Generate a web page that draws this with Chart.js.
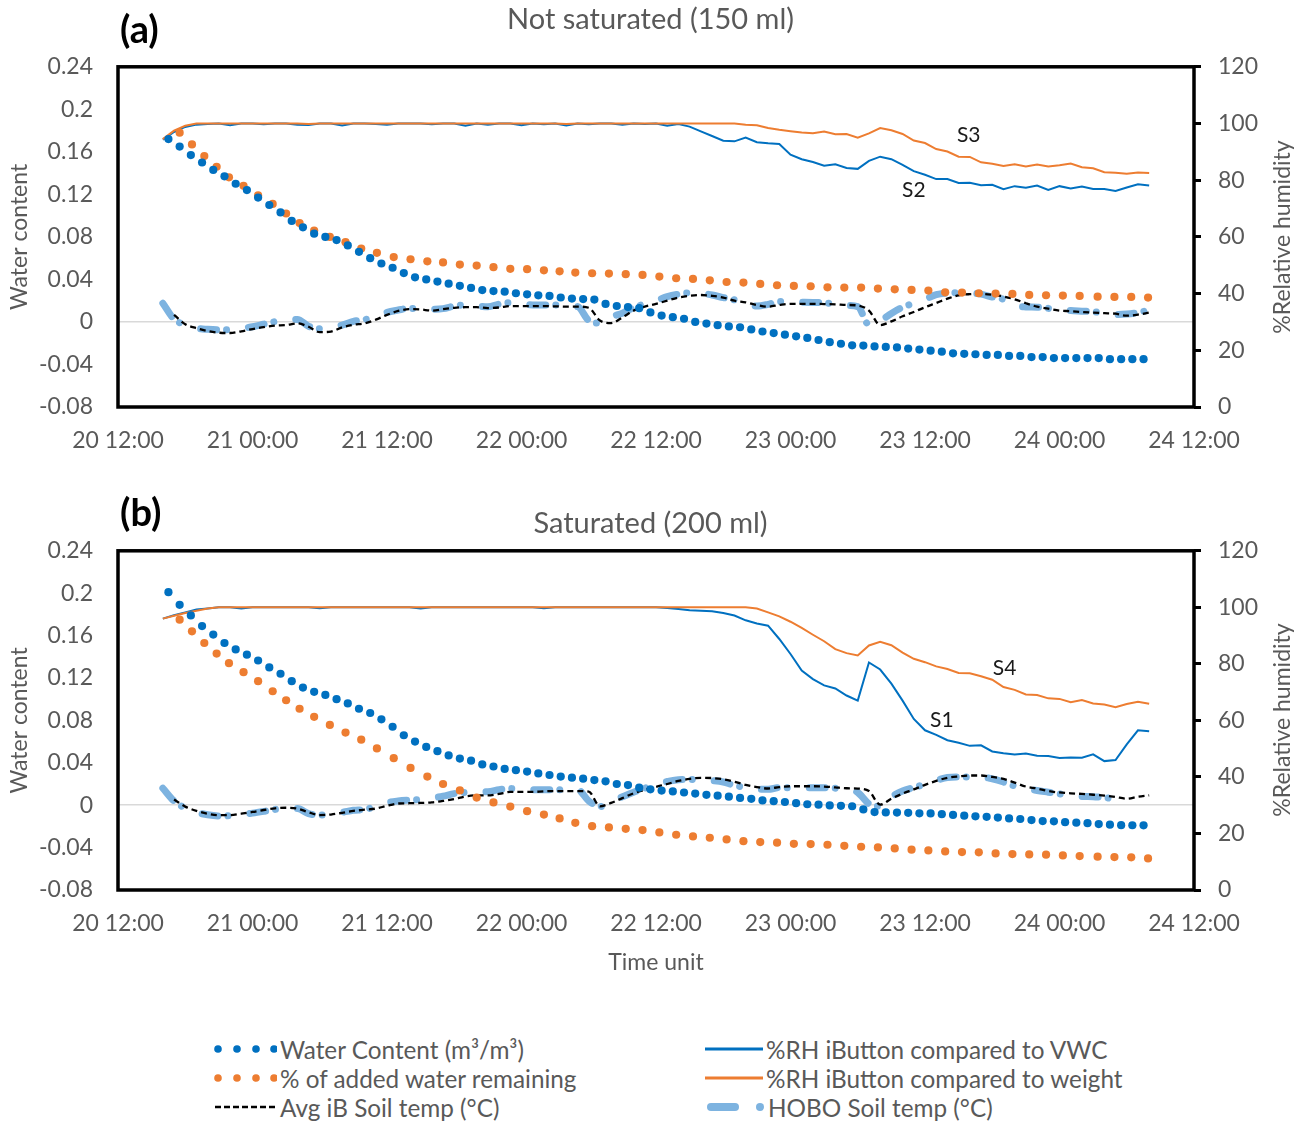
<!DOCTYPE html>
<html>
<head>
<meta charset="utf-8">
<script src="https://cdn.jsdelivr.net/npm/chart.js@4.4.1/dist/chart.umd.min.js"></script>
<style>
  body { margin: 0; background: #fff; width: 1301px; height: 1122px; position: relative; overflow: hidden; font-family: Lato, sans-serif; color: #595959; }
  canvas { position: absolute; left: 0; }
  .tag { position: absolute; left: 120px; height: 44px; line-height: 44px; font: bold 38px Lato, sans-serif; color: #000; }
  .rt { position: absolute; left: 1121px; width: 320px; height: 28px; line-height: 28px; text-align: center; font-size: 23px; transform: rotate(-90deg); }
  .lg { position: absolute; height: 28px; display: flex; align-items: center; font-size: 24.3px; white-space: nowrap; }
  .lg svg { margin-right: 3px; }
</style>
</head>
<body>
<canvas id="chartA" width="1301" height="470" style="top:0"></canvas>
<canvas id="chartB" width="1301" height="516" style="top:484px"></canvas>
<div class="tag" style="top:5px">(a)</div>
<div class="tag" style="top:488px">(b)</div>
<div class="rt" style="top:223px">%Relative humidity</div>
<div class="rt" style="top:706px">%Relative humidity</div>

<div class="lg" style="left:213px;top:1035px"><svg width="64" height="20"><g fill="#0070C0"><circle cx="5" cy="10" r="3.8"/><circle cx="24" cy="10" r="3.8"/><circle cx="43" cy="10" r="3.8"/><circle cx="61" cy="10" r="3.8"/></g></svg>Water Content (m³/m³)</div>
<div class="lg" style="left:213px;top:1064px"><svg width="64" height="20"><g fill="#ED7D31"><circle cx="5" cy="10" r="3.8"/><circle cx="24" cy="10" r="3.8"/><circle cx="43" cy="10" r="3.8"/><circle cx="61" cy="10" r="3.8"/></g></svg>% of added water remaining</div>
<div class="lg" style="left:213px;top:1093px"><svg width="64" height="20"><line x1="2" y1="10" x2="64" y2="10" stroke="#000" stroke-width="2.6" stroke-dasharray="6 3"/></svg>Avg iB Soil temp (°C)</div>
<div class="lg" style="left:703px;top:1035px"><svg width="60" height="20"><line x1="2" y1="10" x2="60" y2="10" stroke="#0070C0" stroke-width="3"/></svg>%RH iButton compared to VWC</div>
<div class="lg" style="left:703px;top:1064px"><svg width="60" height="20"><line x1="2" y1="10" x2="60" y2="10" stroke="#ED7D31" stroke-width="3"/></svg>%RH iButton compared to weight</div>
<div class="lg" style="left:703px;top:1093px"><svg width="62" height="20"><line x1="8" y1="10" x2="32" y2="10" stroke="#7DB3E0" stroke-width="8" stroke-linecap="round"/><circle cx="57" cy="10" r="4" fill="#7DB3E0"/></svg>HOBO Soil temp (°C)</div>

<script>
// x values are hours after 20 12:00
const xTickLabels = ['20 12:00', '21 00:00', '21 12:00', '22 00:00', '22 12:00', '23 00:00', '23 12:00', '24 00:00', '24 12:00'];

const hours = [4, 5, 6, 7, 8, 9, 10, 11, 12, 13, 14, 15, 16, 17, 18, 19, 20, 21, 22, 23, 24, 25, 26, 27, 28, 29, 30,
  31, 32, 33, 34, 35, 36, 37, 38, 39, 40, 41, 42, 43, 44, 45, 46, 47, 48, 49, 50, 51, 52, 53, 54, 55, 56, 57, 58, 59, 60,
  61, 62, 63, 64, 65, 66, 67, 68, 69, 70, 71, 72, 73, 74, 75, 76, 77, 78, 79, 80, 81, 82, 83, 84, 85, 86, 87, 88, 89, 90,
  91, 92];

const wcHours = [4.5, 5.5, 6.5, 7.5, 8.5, 9.5, 10.5, 11.5, 12.5, 13.5, 14.5, 15.5, 16.5, 17.5, 18.5, 19.5, 20.5, 21.5,
  22.5, 23.5, 24.5, 25.5, 26.5, 27.5, 28.5, 29.5, 30.5, 31.5, 32.5, 33.5, 34.5, 35.5, 36.5, 37.5, 38.5, 39.5, 40.5, 41.5,
  42.5, 43.5, 44.5, 45.5, 46.5, 47.5, 48.5, 49.5, 50.5, 51.5, 52.5, 53.5, 54.5, 55.5, 56.5, 57.5, 58.5, 59.5, 60.5, 61.5,
  62.5, 63.5, 64.5, 65.5, 66.5, 67.5, 68.5, 69.5, 70.5, 71.5, 72.5, 73.5, 74.5, 75.5, 76.5, 77.5, 78.5, 79.5, 80.5, 81.5,
  82.5, 83.5, 84.5, 85.5, 86.5, 87.5, 88.5, 89.5, 90.5, 91.5];

const addHours = [5.5, 6.6, 7.7, 8.8, 9.9, 11.2, 12.5, 13.8, 15.0, 16.2, 17.5, 18.9, 20.3, 21.7, 23.1, 24.6, 26.1, 27.6,
  29.0, 30.5, 32.0, 33.5, 35.0, 36.5, 38.0, 39.4, 40.8, 42.3, 43.8, 45.3, 46.8, 48.3, 49.8, 51.3, 52.8, 54.3, 55.8, 57.3,
  58.8, 60.3, 61.8, 63.3, 64.8, 66.3, 67.8, 69.3, 70.8, 72.3, 73.8, 75.3, 76.8, 78.3, 79.8, 81.3, 82.8, 84.3, 85.8, 87.4,
  88.9, 90.4, 91.9];

// (a) Not saturated
const wcA = [0.172, 0.165, 0.157, 0.150, 0.143, 0.137, 0.130, 0.124, 0.117, 0.110, 0.103, 0.095, 0.089, 0.083, 0.080,
  0.077, 0.072, 0.066, 0.060, 0.055, 0.051, 0.046, 0.042, 0.040, 0.038, 0.036, 0.034, 0.032, 0.030, 0.029, 0.0285, 0.027,
  0.026, 0.025, 0.0245, 0.023, 0.022, 0.0215, 0.021, 0.017, 0.015, 0.014, 0.013, 0.009, 0.006, 0.0045, 0.003, 0.0,
  -0.0015, -0.003, -0.0042, -0.005, -0.007, -0.009, -0.0105, -0.012, -0.0135, -0.015, -0.017, -0.019, -0.0205, -0.022,
  -0.0222, -0.023, -0.0235, -0.024, -0.025, -0.026, -0.027, -0.028, -0.0295, -0.030, -0.0304, -0.031, -0.031, -0.032,
  -0.032, -0.033, -0.033, -0.034, -0.034, -0.034, -0.034, -0.034, -0.035, -0.035, -0.035, -0.035];
const addA = [0.178, 0.167, 0.156, 0.146, 0.136, 0.128, 0.119, 0.111, 0.102, 0.093, 0.086, 0.080, 0.075, 0.069, 0.065,
  0.061, 0.059, 0.057, 0.056, 0.054, 0.053, 0.0515, 0.050, 0.0496, 0.0486, 0.0476, 0.0464, 0.0458, 0.0455, 0.0449, 0.0442,
  0.0427, 0.0411, 0.0405, 0.0392, 0.0376, 0.0370, 0.0358, 0.0345, 0.0339, 0.0336, 0.0326, 0.0323, 0.0323, 0.0314, 0.0307,
  0.0301, 0.0295, 0.0279, 0.0276, 0.0270, 0.0267, 0.0264, 0.0254, 0.0251, 0.0248, 0.0245, 0.0238, 0.0235, 0.0235, 0.0229];
const rhVwcA = [94.3, 97.0, 98.8, 99.6, 99.8, 100, 99.4, 100, 100, 99.7, 100, 100, 99.6, 99.5, 100, 100, 99.3, 100, 100,
  99.8, 99.6, 100, 100, 100, 99.7, 100, 100, 99.2, 100, 99.6, 100, 100, 99.4, 100, 99.7, 100, 99.3, 100, 99.7, 100, 100,
  99.6, 100, 99.8, 100, 99.2, 99.8, 98.9, 97.2, 95.6, 93.9, 93.7, 95.0, 93.4, 93.0, 92.8, 89.0, 87.4, 86.4, 85.1, 85.6,
  84.3, 84.0, 86.8, 88.3, 87.4, 85.4, 83.2, 81.9, 80.4, 80.4, 79.0, 79.1, 78.2, 78.4, 76.8, 77.9, 77.3, 78.1, 76.6, 77.9,
  77.1, 77.8, 76.9, 76.9, 76.2, 77.4, 78.6, 78.1];
const rhWtA = [94.5, 97.5, 99.2, 100, 100, 100, 100, 100, 100, 100, 100, 100, 100, 99.8, 100, 100, 100, 100, 100, 100,
  100, 100, 100, 100, 100, 100, 100, 100, 100, 100, 100, 100, 100, 100, 100, 100, 99.8, 100, 100, 100, 100, 100, 100, 100,
  100, 100, 100, 100, 100, 100, 100, 100, 99.6, 99.4, 98.4, 97.8, 97.3, 96.8, 96.6, 97.2, 96.2, 96.3, 95.0, 96.5, 98.4,
  97.6, 96.3, 94.0, 93.1, 91.0, 90.1, 88.3, 88.2, 86.3, 85.8, 85.0, 85.6, 84.8, 85.5, 84.8, 85.3, 85.9, 84.6, 84.2, 82.8,
  82.6, 82.3, 82.7, 82.5];
const tempA = [null, 32.5, 29.2, 27.8, 26.8, 26.2, 26.1, 26.7, 27.5, 28.2, 28.7, 28.9, 29.5, 28.3, 26.4, 26.6, 28.1, 29.0,
  29.5, 30.8, 32.5, 33.9, 34.5, 34.4, 34.0, 34.5, 35.0, 35.2, 35.2, 34.9, 35.1, 35.6, 35.6, 35.6, 35.6, 35.5, 35.4, 35.4,
  35.0, 30.5, 29.6, 31.6, 34.0, 35.4, 36.4, 37.5, 38.6, 39.2, 39.5, 39.2, 38.6, 37.5, 36.9, 36.0, 35.4, 36.0, 36.4, 36.4,
  36.4, 36.3, 36.2, 36.0, 35.8, 34.0, 28.9, 30.2, 32.0, 33.5, 35.2, 36.7, 38.2, 39.4, 39.8, 39.9, 39.6, 39.0, 38.0, 36.6,
  35.4, 34.7, 34.0, 33.8, 33.5, 33.3, 33.1, 32.9, 32.2, 32.6, 33.3];
const hoboA = [36.6, 31.0, 29.0, 27.8, 27.4, 27.2, 27.3, 27.8, 28.3, 29.2, 30.1, 30.5, 30.9, 28.5, 27.6, 28.2, 28.9, 30.2,
  30.8, 31.8, 33.4, 34.2, 34.8, 34.6, 34.5, 34.7, 35.6, 36.0, 35.6, 35.4, 36.3, 36.8, 36.4, 36.0, 36.0, 36.0, 35.6, 35.4,
  30.5, 29.6, 31.8, 33.1, 35.0, 36.4, 37.5, 38.9, 39.8, 40.3, 40.1, 39.5, 38.6, 37.8, 36.5, 35.6, 36.2, 37.2, 37.1, 37.0,
  36.9, 36.8, 36.2, 35.8, 35.4, 29.0, 30.4, 33.0, 35.2, 36.6, 38.0, 39.6, 40.2, 40.3, 40.2, 39.8, 38.8, 38.0, 35.8, 35.3,
  35.2, 34.8, 34.3, 34.0, 33.8, 33.6, 33.1, 32.6, 32.8, 33.3, 34.2];

// (b) Saturated
const wcB = [0.201, 0.189, 0.179, 0.169, 0.161, 0.153, 0.147, 0.142, 0.1365, 0.130, 0.124, 0.117, 0.111, 0.107, 0.104,
  0.100, 0.096, 0.091, 0.087, 0.081, 0.074, 0.066, 0.060, 0.055, 0.051, 0.047, 0.044, 0.042, 0.0385, 0.0365, 0.0342,
  0.033, 0.0317, 0.030, 0.0285, 0.027, 0.026, 0.025, 0.0237, 0.0225, 0.020, 0.019, 0.0165, 0.015, 0.0138, 0.013, 0.012,
  0.011, 0.0098, 0.009, 0.008, 0.0069, 0.006, 0.0045, 0.0038, 0.003, 0.0019, 0.0009, 0.0005, -0.0002, -0.0006, -0.001,
  -0.004, -0.0065, -0.0068, -0.007, -0.0072, -0.0077, -0.0078, -0.0085, -0.0092, -0.0099, -0.0105, -0.011, -0.0117,
  -0.0125, -0.013, -0.014, -0.015, -0.0152, -0.016, -0.0165, -0.017, -0.0178, -0.0184, -0.0188, -0.0189, -0.019];
const addB = [0.175, 0.164, 0.153, 0.143, 0.134, 0.1255, 0.117, 0.1075, 0.099, 0.091, 0.0834, 0.0757, 0.0685, 0.0618,
  0.0536, 0.0444, 0.0352, 0.027, 0.020, 0.0139, 0.0072, 0.0026, -0.0013, -0.0056, -0.0088, -0.0125, -0.0166, -0.0198,
  -0.021, -0.0223, -0.0235, -0.0257, -0.0279, -0.0295, -0.0307, -0.0323, -0.0339, -0.0348, -0.0354, -0.0364, -0.0367,
  -0.0373, -0.0383, -0.0392, -0.0398, -0.0408, -0.042, -0.0427, -0.0436, -0.0442, -0.0445, -0.0455, -0.0461, -0.0464,
  -0.0467, -0.0474, -0.048, -0.0486, -0.0489, -0.0492, -0.0502];
const rhVwcB = [96.0, 97.2, 98.2, 99.2, 99.6, 100, 100, 99.6, 100, 100, 100, 100, 100, 100, 99.7, 100, 100, 100, 100, 100,
  100, 100, 100, 99.6, 100, 100, 100, 100, 100, 100, 100, 100, 100, 100, 99.7, 100, 100, 100, 100, 100, 100, 100, 100, 100,
  100, 99.8, 99.4, 99.0, 98.8, 98.6, 98.0, 97.1, 95.4, 94.3, 93.5, 88.8, 83.5, 77.6, 74.6, 72.4, 71.3, 68.8, 67.0, 80.5,
  78.0, 73.0, 67.0, 60.5, 56.5, 54.9, 53.0, 52.1, 51.0, 51.2, 49.0, 48.4, 47.9, 48.3, 47.5, 47.4, 46.7, 46.9, 46.8, 48.0,
  45.6, 46.0, 51.5, 56.5, 56.2];
const rhWtB = [96.0, 97.0, 98.0, 98.8, 99.6, 100, 100, 100, 100, 100, 100, 100, 100, 100, 100, 100, 100, 100, 100, 100,
  100, 100, 100, 100, 100, 100, 100, 100, 100, 100, 100, 100, 100, 100, 100, 100, 100, 100, 100, 100, 100, 100, 100, 100,
  100, 100, 100, 100, 100, 100, 100, 100, 100, 99.6, 98.2, 96.8, 94.9, 92.7, 90.3, 88.0, 85.2, 83.8, 83.0, 86.5, 87.8,
  86.6, 84.0, 81.8, 80.6, 79.1, 78.2, 76.8, 76.7, 75.6, 74.4, 71.8, 70.8, 69.2, 69.0, 67.8, 67.6, 66.4, 67.2, 66.0, 65.6,
  64.7, 65.8, 66.6, 65.9];
const tempB = [null, 32.0, 29.5, 28.0, 27.0, 26.5, 26.5, 27.0, 27.6, 28.3, 28.9, 29.1, 28.8, 27.5, 26.5, 26.7, 27.3, 28.0,
  28.4, 28.8, 29.8, 30.6, 30.7, 30.8, 31.0, 31.5, 32.2, 33.1, 33.5, 33.5, 34.0, 34.7, 34.7, 34.7, 34.9, 35.0, 35.0, 35.0,
  34.8, 29.6, 30.8, 32.5, 34.2, 35.4, 36.5, 37.5, 38.6, 39.3, 39.7, 39.6, 39.2, 38.3, 37.2, 36.4, 35.9, 36.4, 36.7, 36.7,
  36.7, 36.6, 36.3, 36.0, 35.9, 35.0, 30.2, 32.3, 34.1, 35.6, 37.2, 38.6, 39.7, 40.2, 40.5, 40.5, 40.0, 39.3, 38.0, 36.6,
  35.9, 35.0, 34.5, 34.2, 34.0, 33.7, 33.4, 32.9, 32.3, 33.0, 33.5];
const hoboB = [36.0, 31.5, 29.0, 27.5, 26.6, 26.2, 26.3, 26.8, 27.2, 27.8, 28.5, 28.7, 28.8, 27.0, 26.5, 27.0, 27.5, 28.2,
  28.5, 29.5, 30.9, 31.5, 31.8, 32.0, 32.5, 33.2, 34.1, 34.5, 34.7, 34.8, 35.5, 35.9, 35.7, 35.5, 35.5, 35.5, 35.5, 35.5,
  31.5, 29.5, 31.5, 33.0, 34.6, 36.0, 37.6, 38.4, 39.0, 39.1, 39.0, 38.7, 38.2, 37.0, 36.3, 35.7, 35.6, 36.2, 36.2, 36.2,
  36.2, 36.2, 36.0, 35.8, 34.5, 30.5, 29.6, 33.0, 35.0, 36.3, 37.4, 38.8, 39.8, 40.0, 40.0, 40.0, 39.3, 38.2, 36.8, 35.9,
  35.2, 34.6, 34.0, 33.5, 33.1, 33.0, 32.7, 32.2, 31.8, null, null];

// curve names written next to the RH lines: [text, hour, %RH]
const tagsA = [['S3', 75.9, 96.0], ['S2', 71.0, 76.6]];
const tagsB = [['S4', 79.1, 78.4], ['S1', 73.5, 60.0]];

Chart.defaults.font.family = 'Lato, sans-serif';
Chart.defaults.color = '#595959';

const pts = (xs, ys) => xs.map((x, i) => ({ x, y: ys[i] }));

const frame = {
  id: 'frame',
  afterDatasetsDraw(chart) {
    const { ctx, chartArea: a } = chart;
    ctx.save();
    ctx.strokeStyle = '#000';
    ctx.lineWidth = 3.5;
    ctx.strokeRect(a.left, a.top, a.right - a.left, a.bottom - a.top);
    ctx.restore();
  },
};

const seriesTags = {
  id: 'seriesTags',
  afterDatasetsDraw(chart, args, opts) {
    const { ctx, scales } = chart;
    ctx.save();
    ctx.font = '21px Lato, sans-serif';
    ctx.fillStyle = '#1a1a1a';
    ctx.textAlign = 'center';
    ctx.textBaseline = 'middle';
    opts.tags.forEach(([text, h, v]) => {
      ctx.fillText(text, scales.x.getPixelForValue(h), scales.y1.getPixelForValue(v));
    });
    ctx.restore();
  },
};

const dots = (label, data, color, order) => ({
  label, data, order, yAxisID: 'y', showLine: false,
  pointRadius: 4.1, pointBackgroundColor: color, pointBorderWidth: 0,
});

const line = (label, data, color, order, extra = {}) => ({
  label, data, order, yAxisID: 'y1', showLine: true, borderColor: color, borderWidth: 2,
  pointRadius: 0, tension: 0, ...extra,
});

const createPanel = (canvas, title, titlePad, axisHeight, showXTitle, s, tags) => new Chart(canvas, {
  type: 'scatter',
  data: {
    datasets: [
      dots('Water Content (m³/m³)', pts(wcHours, s.wc), '#0070C0', 1),
      dots('% of added water remaining', pts(addHours, s.add), '#ED7D31', 2),
      line('Avg iB Soil temp (°C)', pts(hours, s.temp), '#000', 3, { borderDash: [6, 4], borderWidth: 2.3, cubicInterpolationMode: 'monotone' }),
      line('HOBO Soil temp (°C)', pts(hours, s.hobo), '#7DB3E0', 4, { borderDash: [16, 10, 0.01, 22], borderWidth: 7, borderCapStyle: 'round', cubicInterpolationMode: 'monotone' }),
      line('%RH iButton compared to weight', pts(hours, s.rhWt), '#ED7D31', 5),
      line('%RH iButton compared to VWC', pts(hours, s.rhVwc), '#0070C0', 6),
    ],
  },
  options: {
    responsive: false,
    animation: false,
    devicePixelRatio: 1,
    layout: { padding: { top: 2, left: 0, right: 0, bottom: 0 } },
    scales: {
      x: {
        type: 'linear',
        min: 0,
        max: 96,
        afterFit: (scale) => { scale.height = axisHeight; },
        grid: { display: false, drawTicks: false },
        border: { display: false },
        ticks: {
          stepSize: 12,
          autoSkip: false,
          maxRotation: 0,
          padding: 20,
          font: { size: 23 },
          callback: (v) => xTickLabels[v / 12],
        },
        title: { display: showXTitle, text: 'Time unit', font: { size: 23 }, padding: { top: 0, bottom: 24 } },
      },
      y: {
        position: 'left',
        min: -0.08,
        max: 0.24,
        afterFit: (scale) => { scale.width = 118; },
        border: { display: false },
        grid: {
          drawTicks: false,
          lineWidth: 1.5,
          color: (c) => (c.tick && Math.abs(c.tick.value) < 1e-9 ? '#d9d9d9' : 'rgba(0,0,0,0)'),
        },
        ticks: {
          stepSize: 0.04,
          padding: 25,
          font: { size: 23 },
          callback: (v) => String(Math.round(v * 100) / 100 || 0),
        },
        title: { display: true, text: 'Water content', font: { size: 23 }, padding: { top: 6 } },
      },
      y1: {
        position: 'right',
        min: 0,
        max: 120,
        afterFit: (scale) => { scale.width = 107; },
        border: { display: false },
        grid: { drawOnChartArea: false, drawTicks: true, tickLength: 7, tickColor: '#000', tickWidth: 3 },
        ticks: { stepSize: 20, padding: 17, font: { size: 23 } },
      },
    },
    plugins: {
      legend: { display: false },
      tooltip: { enabled: false },
      title: { display: true, text: title, font: { size: 29, weight: 'normal' }, color: '#595959', padding: titlePad },
      seriesTags: { tags },
    },
  },
  plugins: [frame, seriesTags],
});

createPanel(document.getElementById('chartA'), 'Not saturated (150 ml)', { top: 0, bottom: 30 }, 63, false,
  { wc: wcA, add: addA, temp: tempA, hobo: hoboA, rhWt: rhWtA, rhVwc: rhVwcA }, tagsA);
createPanel(document.getElementById('chartB'), 'Saturated (200 ml)', { top: 20, bottom: 10 }, 110, true,
  { wc: wcB, add: addB, temp: tempB, hobo: hoboB, rhWt: rhWtB, rhVwc: rhVwcB }, tagsB);
</script>
</body>
</html>
